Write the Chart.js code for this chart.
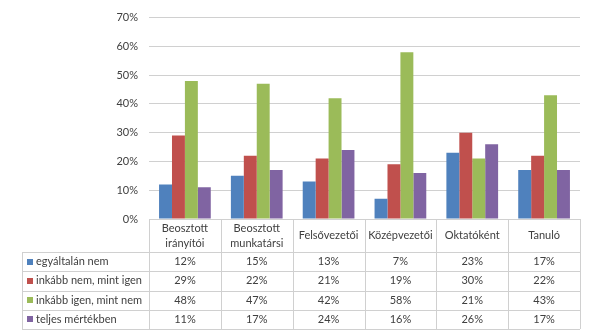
<!DOCTYPE html>
<html lang="hu">
<head>
    <meta charset="UTF-8">
    <title>Válaszok munkakör szerint</title>
    <script src="https://cdn.jsdelivr.net/npm/chart.js"></script>
    <style>
        body { margin: 0; background: #fff; }
        canvas { display: block; }
    </style>
</head>
<body>
    <canvas id="chart" width="594" height="336"></canvas>

    <script>
        const categories = [
            ['Beosztott', 'irányítói'],
            ['Beosztott', 'munkatársi'],
            ['Felsővezetői'],
            ['Középvezetői'],
            ['Oktatóként'],
            ['Tanuló']
        ];
        const seriesNames = ['egyáltalán nem', 'inkább nem, mint igen', 'inkább igen, mint nem', 'teljes mértékben'];
        const egyaltalanNem = [12, 15, 13, 7, 23, 17];
        const inkabbNem = [29, 22, 21, 19, 30, 22];
        const inkabbIgen = [48, 47, 42, 58, 21, 43];
        const teljesMertekben = [11, 17, 24, 16, 26, 17];
        const yTicks = [0, 10, 20, 30, 40, 50, 60, 70];

        const colors = ['#4F81BD', '#C0504D', '#9BBB59', '#8064A2'];
        const FONT = '11px Lato, "Noto Sans", sans-serif';
        const TEXT = '#404040';
        const LINE = '#D0D0D0';
        const ROW_H = 19.25;
        const TABLE_LEFT = 22;

        // data table drawn under the plot, aligned with the category scale
        const dataTable = {
            id: 'dataTable',
            afterDraw(chart) {
                const ctx = chart.ctx;
                const x = chart.scales.x;
                const area = chart.chartArea;
                const step = (area.right - area.left) / categories.length;
                const headTop = area.bottom;
                const rowsTop = area.bottom + 33;
                const bottom = rowsTop + ROW_H * seriesNames.length;
                const px = v => Math.round(v) + 0.5;

                ctx.save();
                ctx.strokeStyle = LINE;
                ctx.lineWidth = 1;
                ctx.beginPath();
                // column separators
                for (let i = 0; i <= categories.length; i++) {
                    const cx = px(area.left + i * step);
                    ctx.moveTo(cx, headTop);
                    ctx.lineTo(cx, bottom);
                }
                ctx.moveTo(px(TABLE_LEFT), rowsTop);
                ctx.lineTo(px(TABLE_LEFT), bottom);
                // row separators
                for (let r = 0; r <= seriesNames.length; r++) {
                    const ry = px(rowsTop + r * ROW_H);
                    ctx.moveTo(TABLE_LEFT, ry);
                    ctx.lineTo(area.right, ry);
                }
                ctx.stroke();

                ctx.font = FONT;
                ctx.fillStyle = TEXT;
                ctx.textBaseline = 'middle';
                ctx.textAlign = 'center';

                // category headers
                categories.forEach((lines, i) => {
                    const cx = x.getPixelForValue(i);
                    if (lines.length === 2) {
                        ctx.fillText(lines[0], cx, headTop + 9);
                        ctx.fillText(lines[1], cx, headTop + 24);
                    } else {
                        ctx.fillText(lines[0], cx, headTop + 16);
                    }
                });

                // rows: legend key + values
                chart.data.datasets.forEach((ds, r) => {
                    const cy = rowsTop + r * ROW_H + ROW_H / 2;
                    ctx.fillStyle = ds.backgroundColor;
                    ctx.fillRect(27, Math.round(cy) - 3, 6, 6);
                    ctx.fillStyle = TEXT;
                    ctx.textAlign = 'left';
                    ctx.fillText(ds.label, 36, cy);
                    ctx.textAlign = 'center';
                    ds.data.forEach((v, i) => {
                        ctx.fillText(v + '%', x.getPixelForValue(i), cy);
                    });
                });
                ctx.restore();
            }
        };

        const series = [egyaltalanNem, inkabbNem, inkabbIgen, teljesMertekben];

        new Chart(document.getElementById('chart'), {
            type: 'bar',
            data: {
                labels: categories.map(c => c.join(' ')),
                datasets: series.map((d, i) => ({
                    label: seriesNames[i],
                    data: d,
                    backgroundColor: colors[i],
                    categoryPercentage: 0.72,
                    barPercentage: 1.0
                }))
            },
            options: {
                responsive: false,
                animation: false,
                layout: { padding: { top: 14, right: 14, bottom: 84, left: 0 } },
                plugins: {
                    legend: { display: false },
                    tooltip: { enabled: false }
                },
                scales: {
                    x: {
                        grid: { display: false },
                        border: { display: false },
                        ticks: { display: false },
                        afterFit(scale) { scale.height = 33; }
                    },
                    y: {
                        min: 0,
                        max: 70,
                        afterBuildTicks(scale) { scale.ticks = yTicks.map(v => ({ value: v })); },
                        afterFit(scale) { scale.width = 149; },
                        grid: { color: LINE, drawTicks: false },
                        border: { display: false },
                        ticks: {
                            padding: 11,
                            color: TEXT,
                            font: { family: 'Lato, "Noto Sans", sans-serif', size: 11 },
                            callback: v => v + '%'
                        }
                    }
                }
            },
            plugins: [dataTable]
        });
    </script>
</body>
</html>
